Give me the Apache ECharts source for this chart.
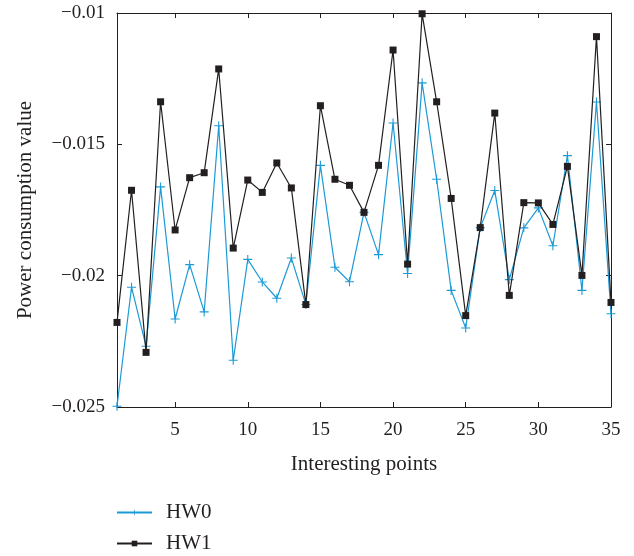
<!DOCTYPE html>
<html>
<head>
<meta charset="utf-8">
<script src="https://cdn.jsdelivr.net/npm/echarts@6/dist/echarts.min.js"></script>
<style>
  html, body { margin: 0; padding: 0; background: #fff; }
  #chart { width: 634px; height: 556px; }
</style>
</head>
<body>
<div id="chart"></div>
<script>
// Interesting point indices 1..35
const points = [1,2,3,4,5,6,7,8,9,10,11,12,13,14,15,16,17,18,19,20,21,22,23,24,25,26,27,28,29,30,31,32,33,34,35];

// Power consumption per interesting point
const hw0 = [-0.02497,-0.02044,-0.02269,-0.01662,-0.02165,-0.01958,-0.02138,-0.01429,-0.02322,-0.01938,
             -0.02024,-0.02086,-0.01933,-0.02110,-0.01580,-0.01968,-0.02023,-0.01759,-0.01920,-0.01419,
             -0.01992,-0.01266,-0.01633,-0.02056,-0.02199,-0.01817,-0.01676,-0.02015,-0.01818,-0.01742,
             -0.01886,-0.01543,-0.02056,-0.01339,-0.02145];
const hw1 = [-0.02178,-0.01675,-0.02292,-0.01338,-0.01826,-0.01627,-0.01608,-0.01213,-0.01895,-0.01636,
             -0.01683,-0.01571,-0.01666,-0.02110,-0.01353,-0.01633,-0.01656,-0.01759,-0.01580,-0.01141,
             -0.01956,-0.01003,-0.01338,-0.01706,-0.02152,-0.01817,-0.01381,-0.02075,-0.01722,-0.01723,
             -0.01805,-0.01584,-0.01999,-0.01090,-0.02102];

const xTicks = [5,10,15,20,25,30,35];
const yTicks = [-0.025,-0.02,-0.015,-0.01];
const yTickLabels = ['\u22120.025','\u22120.02','\u22120.015','\u22120.01'];

const FONT = '"Liberation Serif", "DejaVu Serif", serif';
const INK = '#231f20';
const BLUE = '#1b9ad7';
const PLUS = 'path://M4.4,0H5.6V10H4.4ZM0,4.4H10V5.6H0Z';

function yLabel(v) {
  for (let i = 0; i < yTicks.length; i++) {
    if (Math.abs(v - yTicks[i]) < 1e-9) return yTickLabels[i];
  }
  return '';
}

const axisLine = { show: true, lineStyle: { color: INK, width: 1 } };
const tickStyle = { inside: true, length: 5, lineStyle: { color: INK, width: 1 } };

const chart = echarts.init(document.getElementById('chart'), null, { renderer: 'canvas' });
chart.setOption({
  backgroundColor: '#fff',
  animation: false,
  grid: { left: 117, right: 23, top: 13, bottom: 149, containLabel: false },
  legend: {
    orient: 'vertical',
    left: 111,
    top: 501,
    height: 55,
    padding: [0, 5, 0, 5],
    itemWidth: 35,
    itemHeight: 7,
    itemGap: 8,
    textStyle: { fontFamily: FONT, fontSize: 21, lineHeight: 23, color: INK, padding: [0, 0, 0, 9] },
    data: ['HW0', 'HW1']
  },
  xAxis: [{
    type: 'value', min: 1, max: 35, position: 'bottom',
    name: 'Interesting points', nameLocation: 'middle', nameGap: 47,
    nameTextStyle: { fontFamily: FONT, fontSize: 21, color: INK },
    axisLine,
    axisTick: Object.assign({ customValues: xTicks }, tickStyle),
    axisLabel: { customValues: xTicks, fontFamily: FONT, fontSize: 19, color: INK, margin: 14 },
    splitLine: { show: false }
  }, {
    type: 'value', min: 1, max: 35, position: 'top',
    axisLine,
    axisTick: Object.assign({ customValues: xTicks }, tickStyle),
    axisLabel: { show: false },
    splitLine: { show: false }
  }],
  yAxis: [{
    type: 'value', min: -0.025, max: -0.01, interval: 0.005, position: 'left',
    name: 'Power consumption value', nameLocation: 'middle', nameGap: 81,
    nameTextStyle: { fontFamily: FONT, fontSize: 21, color: INK },
    axisLine,
    axisTick: tickStyle,
    axisLabel: { formatter: yLabel, fontFamily: FONT, fontSize: 19, color: INK, margin: 12 },
    splitLine: { show: false }
  }, {
    type: 'value', min: -0.025, max: -0.01, interval: 0.005, position: 'right',
    axisLine,
    axisTick: tickStyle,
    axisLabel: { show: false },
    splitLine: { show: false }
  }],
  series: [{
    name: 'HW0',
    type: 'line',
    data: points.map((p, i) => [p, hw0[i]]),
    symbol: PLUS,
    symbolSize: 9,
    showAllSymbol: true,
    itemStyle: { color: BLUE },
    lineStyle: { color: BLUE, width: 1.2 },
    z: 2
  }, {
    name: 'HW1',
    type: 'line',
    data: points.map((p, i) => [p, hw1[i]]),
    symbol: 'rect',
    symbolSize: 7,
    showAllSymbol: true,
    itemStyle: { color: INK },
    lineStyle: { color: INK, width: 1.2 },
    z: 3
  }]
});
</script>
</body>
</html>
